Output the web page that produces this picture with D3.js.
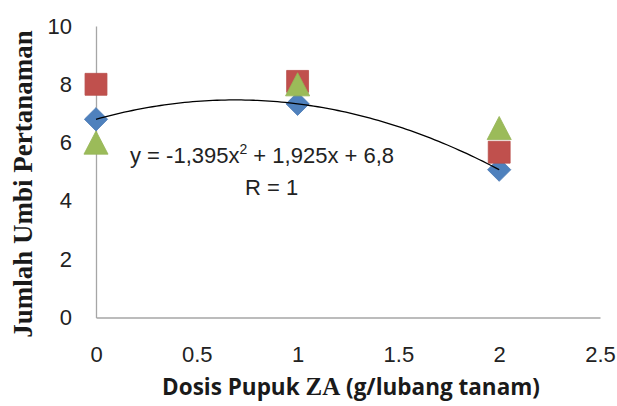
<!DOCTYPE html>
<html>
<head>
<meta charset="utf-8">
<script src="https://cdn.jsdelivr.net/npm/d3@7/dist/d3.min.js"></script>
<style>
  html, body { margin: 0; padding: 0; background: #fff; }
  svg { display: block; }
</style>
</head>
<body>
<svg id="chart" width="617" height="406"></svg>
<script>
// Dose of ZA fertilizer (g/planting hole)
const doses = [0, 1, 2];
// Tuber counts per planting, three series
const seriesBlue  = [6.8, 7.33, 5.07];
const seriesRed   = [8.0, 8.1, 5.67];
const seriesGreen = [6.0, 8.0, 6.5];
// Polynomial trendline coefficients for the blue series: a x^2 + b x + c
const trendCoef = [-1.395, 1.925, 6.8];
const trendLabel = "y = -1,395x";
const trendLabelRest = " + 1,925x + 6,8";
const rLabel = "R = 1";
// Axis ticks
const xTicks = [0, 0.5, 1, 1.5, 2, 2.5];
const yTicks = [0, 2, 4, 6, 8, 10];

const svg = d3.select("#chart");
const x = d3.scaleLinear().domain([0, 2.5]).range([96, 600]);
const y = d3.scaleLinear().domain([0, 10]).range([317.5, 26]);

const tickFont = "'Liberation Sans', Arial, sans-serif";

// Axes: plain gray lines, no tick marks
const xAxis = d3.axisBottom(x).tickValues(xTicks).tickSize(0).tickPadding(29)
  .tickFormat(d => String(d));
const gx = svg.append("g").attr("transform", `translate(0,${y(0)})`).call(xAxis);
gx.select(".domain").attr("stroke", "#a6a6a6").attr("stroke-width", 1.3);
gx.selectAll("text").attr("font-family", tickFont).attr("font-size", 22).attr("fill", "#222");

const yAxis = d3.axisLeft(y).tickValues(yTicks).tickSize(0).tickPadding(24)
  .tickFormat(d => String(d));
const gy = svg.append("g").attr("transform", `translate(${x(0)},0)`).call(yAxis);
gy.select(".domain").attr("stroke", "#a6a6a6").attr("stroke-width", 1.3);
gy.selectAll("text").attr("font-family", tickFont).attr("font-size", 22).attr("fill", "#222");

// Triangle marker centred on its bounding box
const boxTriangle = {
  draw(ctx, size) {
    const w = Math.sqrt(size), h = w * 0.96;
    ctx.moveTo(0, -h / 2);
    ctx.lineTo(w / 2, h / 2);
    ctx.lineTo(-w / 2, h / 2);
    ctx.closePath();
  }
};

// Markers
const sym = (type, size) => d3.symbol().type(type).size(size);
const series = [
  { values: seriesBlue,  color: "#4f81bd", stroke: "#4a7ab5", path: sym(d3.symbolSquare, 270)(), rotate: 45 },
  { values: seriesRed,   color: "#c0504d", stroke: "#b84c49", path: sym(d3.symbolSquare, 480)(), rotate: 0 },
  { values: seriesGreen, color: "#9bbb59", stroke: "#94b455", path: sym(boxTriangle, 580)(), rotate: 0 }
];
series.forEach(s => {
  svg.append("g").selectAll("path")
    .data(s.values)
    .join("path")
    .attr("d", s.path)
    .attr("transform", (v, i) => `translate(${x(doses[i])},${y(v)}) rotate(${s.rotate})`)
    .attr("fill", s.color)
    .attr("stroke", s.stroke)
    .attr("stroke-width", 0.8);
});

// Polynomial trendline
const trend = xv => trendCoef[0] * xv * xv + trendCoef[1] * xv + trendCoef[2];
const xs = d3.range(0, 2.0001, 0.02);
svg.append("path")
  .datum(xs)
  .attr("fill", "none")
  .attr("stroke", "#000")
  .attr("stroke-width", 1.3)
  .attr("d", d3.line().x(d => x(d)).y(d => y(trend(d))).curve(d3.curveBasis));

// Trendline equation
const eq = svg.append("text")
  .attr("x", 130).attr("y", 163)
  .attr("font-family", tickFont).attr("font-size", 22).attr("fill", "#222");
eq.append("tspan").text(trendLabel);
eq.append("tspan").attr("dy", -9).attr("font-size", 14).text("2");
eq.append("tspan").attr("dy", 9).text(trendLabelRest);

svg.append("text")
  .attr("x", 245).attr("y", 195)
  .attr("font-family", tickFont).attr("font-size", 22).attr("fill", "#222")
  .text(rLabel);

// Axis titles
const xt = svg.append("text")
  .attr("x", 351).attr("y", 395)
  .attr("text-anchor", "middle")
  .attr("font-family", "'Open Sans', 'Liberation Sans', sans-serif")
  .attr("font-weight", "bold").attr("font-size", 22.5).attr("fill", "#1a1a1a");
xt.append("tspan").text("Dosis Pupuk ");
xt.append("tspan").attr("font-family", "'Liberation Serif', serif").attr("font-size", 25).text("ZA");
xt.append("tspan").text(" (g/lubang tanam)");

svg.append("text")
  .attr("transform", "translate(32,184) rotate(-90)")
  .attr("text-anchor", "middle")
  .attr("font-family", "'Liberation Serif', 'Times New Roman', serif")
  .attr("font-weight", "bold").attr("font-size", 27).attr("fill", "#1a1a1a")
  .text("Jumlah Umbi Pertanaman");
</script>
</body>
</html>
